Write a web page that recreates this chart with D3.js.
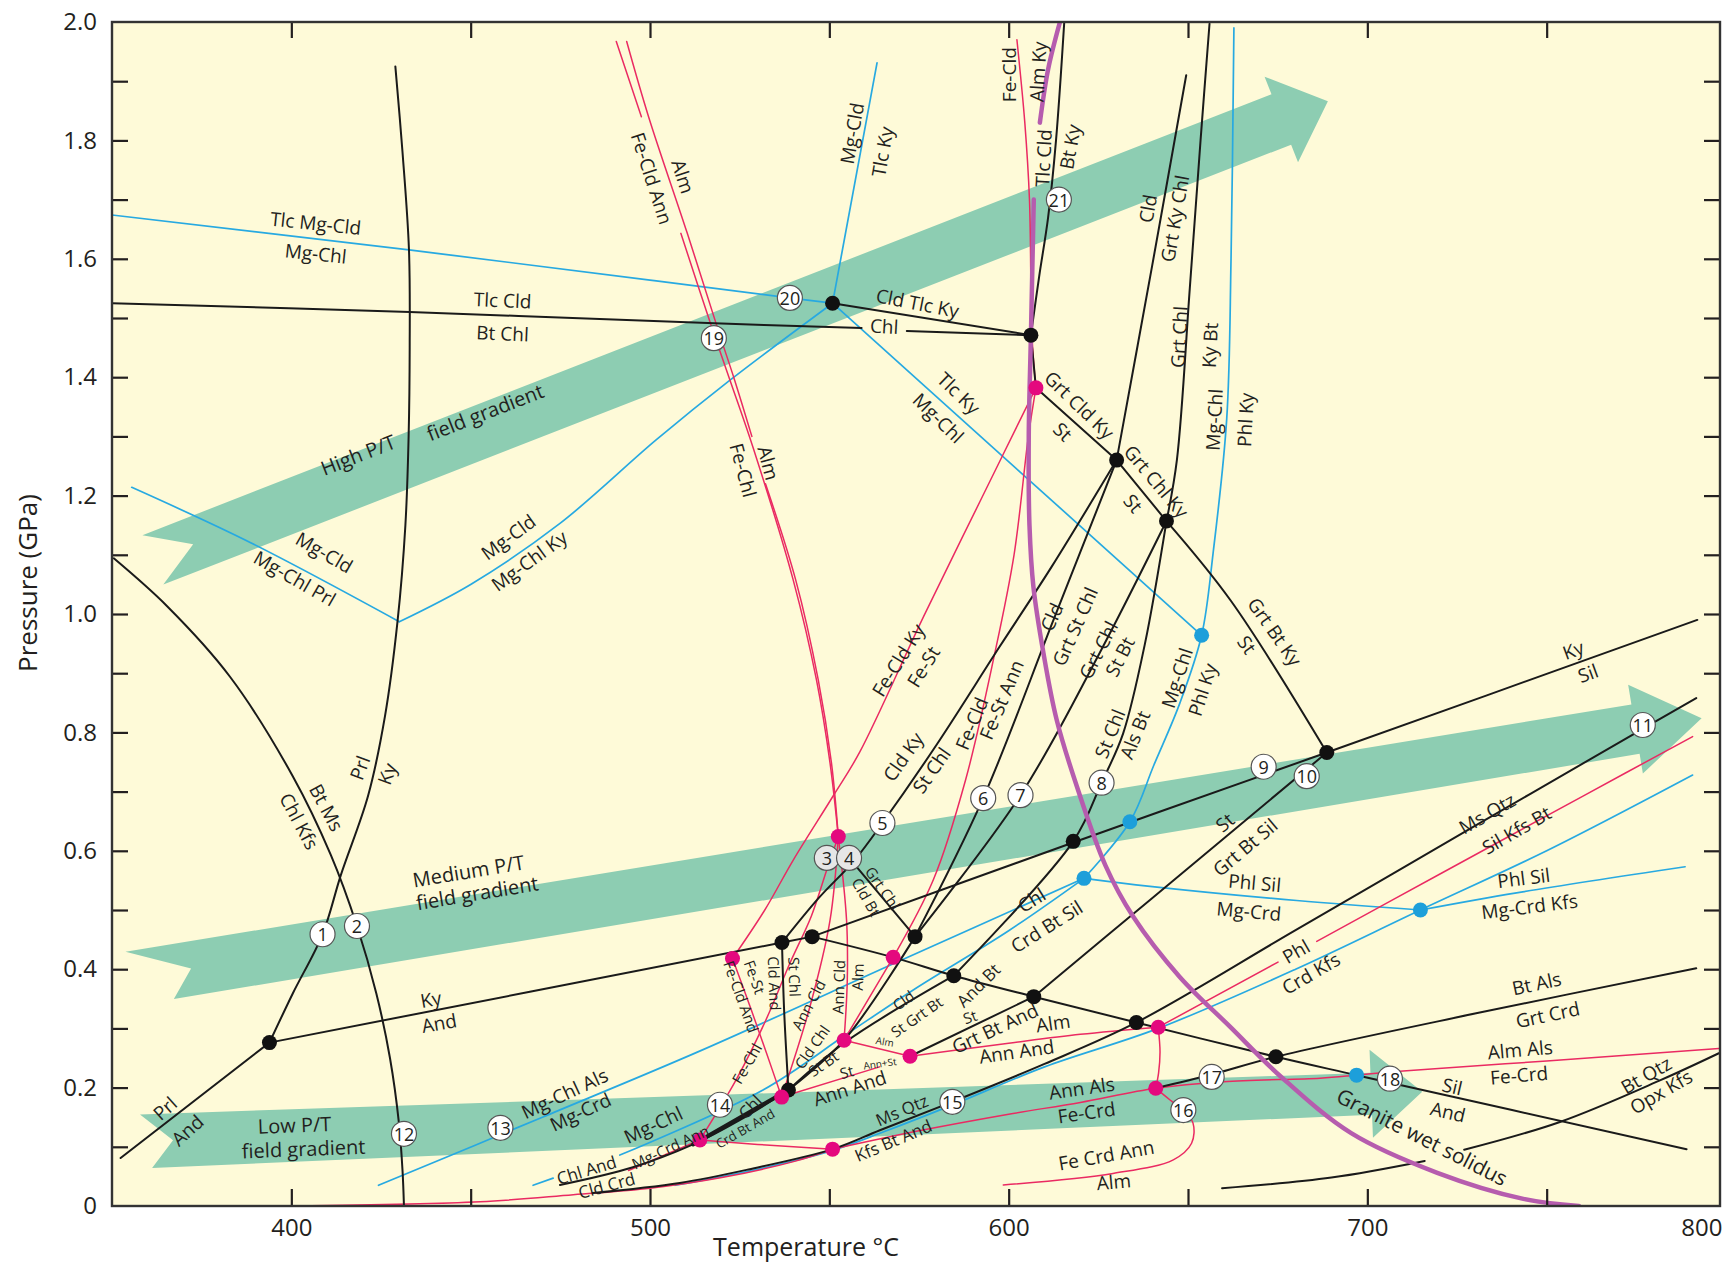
<!DOCTYPE html>
<html><head><meta charset="utf-8">
<script src="https://cdn.jsdelivr.net/npm/d3@7"></script>
<style>
body{margin:0;background:#fff}
svg text{font-family:'Open Sans',sans-serif;fill:#231f20}
</style></head>
<body><svg id="c" width="1725" height="1267"></svg>
<script>
// ---------------- axis ticks ----------------
const tempTicks = [400, 500, 600, 700, 800];
const tempMinorTicks = [400, 450, 500, 550, 600, 650, 700, 750];
const pressTicks = [0, 0.2, 0.4, 0.6, 0.8, 1.0, 1.2, 1.4, 1.6, 1.8, 2.0];
const pressMinorTicks = [0.1,0.2,0.3,0.4,0.5,0.6,0.7,0.8,0.9,1.0,1.1,1.2,1.3,1.4,1.5,1.6,1.7,1.8,1.9];

// ---------------- field gradient arrows (T, P of tail and tip) ----------------
const highGradient = [[361.2, 1.091], [689.0, 1.866]];
const mediumGradient = [[355.0, 0.384], [793.2, 0.824]];
const lowGradient = [[358.1, 0.109], [715.3, 0.193]];

// ---------------- black reactions ----------------
const prlAnd = [[352.4,0.081],[393.9,0.276]];
const prlKy = [[393.9,0.276],[400.4,0.359],[408.7,0.459],[413.8,0.559],[421.4,0.693],[426.1,0.827],[429.6,0.987],[431.8,1.15],[432.7,1.3],[433,1.45],[432.8,1.615],[431,1.78],[429,1.925]];
const btMsChlKfs = [[350.5,1.094],[365.3,1.0135],[382.9,0.894],[400.4,0.726],[411,0.593],[418.3,0.473],[423.7,0.359],[427.5,0.25],[430,0.14],[431,0.06],[431.4,0]];
const andKy = [[393.9,0.276],[536.8,0.445],[545.2,0.455]];
const kySil = [[545.2,0.455],[618,0.614],[688.7,0.766],[792,0.99]];
const andSil = [[545.2,0.455],[567.8,0.42],[584.7,0.389],[607,0.3536],[635.6,0.31],[674.5,0.252],[697,0.221],[789,0.096]];
const tlcCldBtChlA = [[350,1.525],[433,1.51],[518,1.491],[559,1.483]];
const tlcCldBtChlB = [[571.6,1.478],[606.2,1.471]];
const cldTlcKyChl = [[550.9,1.525],[606.2,1.471]];
const tlcCldBtKy = [[606.2,1.471],[608.5,1.57],[611,1.67],[613.2,1.8],[615.5,2.0]];
const cldStem = [[606.2,1.471],[607.6,1.382]];
const grtCldKySt = [[607.6,1.382],[630.1,1.26]];
const grtChlKySt = [[630.1,1.26],[644,1.157]];
const grtBtKySt = [[644,1.157],[662,1.022],[688.7,0.766]];
const cldGrtKyChl = [[630.1,1.26],[640,1.588],[649.5,1.91]];
const grtChlKyBt = [[644,1.157],[646.9,1.26],[650.5,1.55],[653.5,1.8],[656,1.997]];
const cldKyStChl = [[536.8,0.445],[547,0.52],[557,0.584],[564.8,0.647],[580,0.78],[597.5,0.945],[612,1.08],[630.1,1.26]];
const cldGrtStChl = [[573.9,0.455],[592.9,0.689],[612.5,0.99],[630.1,1.26]];
const grtChlStBt = [[573.9,0.455],[603.3,0.694],[625,0.93],[644,1.157]];
const grtChlCldBt = [[555.5,0.588],[573.9,0.455]];
const cldAndStChl = [[536.8,0.445],[537.4,0.33],[538.6,0.196]];
const cldChlStBt = [[538.6,0.196],[554.1,0.28],[573.9,0.455]];
const stBtAnd = [[538.6,0.196],[554.5,0.277],[584.7,0.389]];
const stChlAlsBt = [[584.7,0.389],[618,0.616],[625.9,0.715],[631.9,0.798],[638,0.95],[644,1.157]];
const chlAndCldCrd = [[474.9,0.0355],[495,0.065],[512,0.104],[525,0.145],[538.6,0.196]];
const chlCrdBtAnd = [[512,0.104],[538.6,0.196]];
const msQtzKfsBt = [[484,0.022],[508.3,0.039],[526.9,0.061],[550.9,0.096],[564.1,0.128],[584.3,0.176],[610,0.24],[635.6,0.31],[680,0.466],[730,0.642],[776.8,0.806],[791.7,0.858]];
const btAlsGrtCrd = [[641,0.199],[656.6,0.222],[674.5,0.252],[730,0.325],[791.7,0.4015]];
const btQtzOpxKfsA = [[659.5,0.03],[690,0.048],[716,0.076]];
const btQtzOpxKfsB = [[727,0.095],[753.7,0.142],[781.9,0.213],[798,0.258]];
const stGrtBtAnd = [[572.5,0.253],[607,0.3536]];
const stGrtBtSil = [[607,0.3536],[639.4,0.517],[688.7,0.766]];

// ---------------- red (Fe) reactions ----------------
const almFeCldAnnA = [[490.6,1.967],[497.6,1.84]];
const almFeCldAnnB = [[508.6,1.643],[517.8,1.474],[522.3,1.395],[528.8,1.28],[539.9,1.058],[546.4,0.889],[550.2,0.748],[552.5,0.624]];
const almFeChlA = [[493.5,1.967],[499.6,1.84],[510.4,1.643],[519.3,1.474],[523.6,1.395],[528.4,1.3]];
const almFeChlB = [[532.2,1.22],[540.6,1.058],[546.9,0.889],[550.6,0.748],[552.5,0.624]];
const feCldAlmKy = [[602.3,1.97],[604.5,1.83],[605.8,1.70],[606.5,1.47],[607.6,1.382]];
const feCldKyFeSt = [[523,0.418],[532,0.5],[539.9,0.584],[551.1,0.693],[558.5,0.767],[576.3,0.996],[592,1.19],[607.6,1.382]];
const feCldAndFeSt = [[523,0.418],[527.9,0.337],[532.5,0.258],[536.7,0.184]];
const feCldFeStAnn = [[567.8,0.42],[579,0.551],[588,0.72],[596,0.93],[601.5,1.1],[605.5,1.3],[607.6,1.382]];
const feChlAlm = [[513.9,0.1115],[524,0.213],[532,0.31],[539,0.41],[545,0.49],[549.3,0.568],[552.5,0.624]];
const annCldAlmA = [[552.5,0.624],[550.2,0.483],[544.6,0.337],[536.7,0.184]];
const annCldAlmB = [[552.5,0.624],[554.8,0.483],[555,0.38],[554.1,0.28]];
const feStShort = [[554.1,0.28],[567.8,0.42]];
const almAnnSt = [[554.1,0.28],[572.5,0.253]];
const stAnnAnd = [[536.7,0.184],[564,0.235]];
const almAnnAnd = [[572.5,0.253],[600,0.275],[620,0.29],[641.7,0.302]];
const phlCrdKfsFeA = [[641.7,0.302],[675.1,0.412]];
const phlCrdKfsFeB = [[685.9,0.447],[720,0.56],[760,0.692],[790.7,0.793]];
const feVertical = [[641.7,0.302],[642.2,0.26],[641.8,0.225],[641,0.199]];
const feCrdAnnAlm = [[641,0.199],[645,0.179],[648.7,0.162],[651.4,0.14],[651,0.106],[645.9,0.078],[629.1,0.055],[598.5,0.0355]];
const annAlsFeCrd = [[550.9,0.096],[575,0.127],[600,0.155],[620,0.175],[641,0.199],[660,0.21],[686.8,0.216],[697,0.221],[710,0.228],[750,0.245],[798,0.266]];
const crdBtAndFe = [[513.9,0.1115],[530,0.104],[550.9,0.096]];
const bottomFe = [[401,0.0],[452.6,0.007],[478.6,0.019],[500,0.03],[520,0.048],[540,0.075],[550.9,0.096]];
const mgCrdAnnFe = [[494,0.06],[513.9,0.1115]];

// ---------------- blue (Mg) reactions ----------------
const tlcMgCldMgChl = [[350,1.674],[432.8,1.615],[500,1.564],[539,1.534],[550.9,1.525]];
const mgCldTlcKy = [[550.9,1.525],[563.3,1.931]];
const tlcKyMgChl = [[550.9,1.525],[653.8,0.964]];
const mgChlPhlKy = [[662.8,1.99],[662,1.6],[660.8,1.33],[657,1.103],[653.8,0.964],[647.7,0.849],[640.5,0.745],[633.8,0.649],[621,0.5535]];
const mgCldMgChlPrl = [[355.5,1.214],[388.8,1.12],[430.1,0.987]];
const mgCldMgChlKy = [[430.1,0.987],[450,1.05],[474.9,1.153],[501.7,1.294],[522.3,1.395],[550.9,1.525]];
const phlSilMgCrd = [[621,0.5535],[639.4,0.54],[680.3,0.516],[714.8,0.5]];
const phlSilMgCrdKfs = [[714.8,0.5],[741.6,0.529],[788.6,0.573]];
const mgChlAlsMgCrd = [[424.3,0.035],[470,0.15],[514,0.262],[570,0.415],[621,0.5535]];
const mgChlMgCrdAnnA = [[467.4,0.035],[473,0.047]];
const mgChlMgCrdAnnB = [[491.6,0.086],[531.5,0.196],[554.8,0.29],[573.4,0.365],[600,0.465],[621,0.5535]];
const phlCrdKfsMg = [[507,0.035],[530,0.062],[550.9,0.094],[565,0.125],[584,0.17],[610,0.235],[641.7,0.3],[680,0.4],[714.8,0.5],[750,0.6],[790.7,0.728]];

// ---------------- granite wet solidus ----------------
const solidusTop = [[614.3,2.0],[611,1.92],[608.7,1.83]];
const solidusMain = [[607,1.7],[606.2,1.47],[605.6,1.3],[605.8,1.15],[606.9,1.046],[609.7,0.934],[613.4,0.821],[619,0.709],[627,0.575],[634.7,0.489],[647.7,0.387],[661.7,0.303],[676,0.218],[695.5,0.123],[719.5,0.056],[743.5,0.012],[759,0.0]];

// ---------------- invariant points ----------------
const blackPoints = [[393.9,0.276],[536.8,0.445],[545.2,0.455],[573.9,0.455],[584.7,0.389],[607,0.3536],[618,0.616],[630.1,1.26],[644,1.157],[688.7,0.766],[635.6,0.31],[674.5,0.252],[538.6,0.196],[550.9,1.525],[606.2,1.471]];
const magentaPoints = [[607.6,1.382],[552.5,0.624],[523,0.418],[567.8,0.42],[554.1,0.28],[572.5,0.253],[536.7,0.184],[513.9,0.1115],[550.9,0.096],[641.7,0.302],[641,0.199]];
const bluePoints = [[653.8,0.964],[633.8,0.649],[621,0.5535],[714.8,0.5],[697,0.221]];
const numberedPoints = [[1,408.7,0.459],[2,418.3,0.473],[3,549.3,0.588],[4,555.5,0.588],[5,564.8,0.647],[6,592.9,0.689],[7,603.3,0.694],[8,625.9,0.715],[9,671.1,0.742],[10,683.1,0.726],[11,776.8,0.8125],[12,431.4,0.122],[13,458.3,0.132],[14,519.5,0.171],[15,584.3,0.176],[16,648.7,0.162],[17,656.6,0.218],[18,706.3,0.215],[19,517.8,1.466],[20,539,1.534],[21,614,1.70]];

// ---------------- labels [text, T, P, angle] ----------------
const arrowLabels = [["High P/T",418.6,1.269,-21.3],["field gradient",454.0,1.341,-21.3],["Medium P/T",449.4,0.566,-9.4],["field gradient",451.8,0.529,-9.4],["Low P/T",400.9,0.137,-2.2],["field gradient",403.4,0.097,-2.2]];
const solidusLabel = [["Granite wet solidus",715.3,0.117,27]];
const labelsL = [
["Tlc Mg-Cld",406.8,1.660,6],["Mg-Chl",406.8,1.609,6],["Tlc Cld",458.9,1.530,2.5],["Bt Chl",458.9,1.474,2.5],
["Alm",509.2,1.739,72],["Fe-Cld Ann",500.5,1.736,72],["Mg-Cld",556.3,1.812,-80],["Tlc Ky",564.8,1.781,-80],
["Fe-Cld",600.0,1.911,-90],["Alm Ky",608.2,1.916,-87],["Tlc Cld",609.7,1.770,-87],["Bt Ky",617.1,1.789,-80],
["Cld Tlc Ky",574.6,1.525,11],["Chl",565.3,1.486,3],["Tlc Ky",586.1,1.373,44],["Mg-Chl",580.4,1.331,44],
["Grt Cld Ky",619.7,1.353,44],["St",615.1,1.308,44],["Cld",638.8,1.685,-80],["Grt Ky Chl",646.3,1.668,-80],
["Grt Chl",647.5,1.468,-87],["Ky Bt",656.1,1.454,-87],["Mg-Chl",657.3,1.328,-87],["Phl Ky",666.0,1.328,-87],
["Mg-Cld",409.2,1.104,30],["Mg-Chl Prl",401.0,1.060,30],["Mg-Cld",460.5,1.130,-36],["Mg-Chl Ky",466.3,1.090,-36],
["Prl",419.1,0.740,-70],["Ky",426.7,0.730,-70],["Bt Ms",409.8,0.673,62],["Chl Kfs",402.2,0.650,62],
["Ky",438.9,0.349,-10],["And",441.2,0.309,-10],["Prl",364.8,0.165,-42],["And",371.0,0.128,-42],
["Mg-Chl Als",476.2,0.190,-25],["Mg-Crd",480.6,0.159,-25],["Mg-Chl",500.9,0.137,-25],["Ann And",555.7,0.199,-18],
["Grt Bt And",596.2,0.300,-25],["Chl",606.4,0.517,-32],["Crd Bt Sil",610.6,0.472,-32],
["Phl Sil",668.6,0.546,5],["Mg-Crd",667.0,0.498,5],["Alm",612.4,0.309,-8],["Ann And",602.2,0.261,-8],
["Ann Als",620.4,0.199,-8],["Fe-Crd",621.7,0.158,-8],["Fe Crd Ann",627.2,0.086,-10],["Alm",629.3,0.041,-5],
["Phl",680.1,0.430,-30],["Crd Kfs",684.3,0.393,-30],["Mg-Chl",646.9,0.892,-72],["Phl Ky",654.0,0.872,-72],
["Grt Bt Ky",674.2,0.970,55],["St",666.4,0.948,55],["Ky",757.4,0.939,-20],["Sil",761.5,0.900,-20],
["St",660.3,0.648,-40],["Grt Bt Sil",665.9,0.606,-40],["Ms Qtz",733.4,0.663,-30],["Sil Kfs Bt",741.6,0.635,-30],
["Phl Sil",743.6,0.554,-7],["Mg-Crd Kfs",745.2,0.506,-7],["Bt Als",747.2,0.376,-12],["Grt Crd",750.3,0.323,-12],
["Alm Als",742.6,0.264,-5],["Fe-Crd",742.3,0.221,-5],["Sil",723.7,0.202,13],["And",722.5,0.159,13],
["Bt Qtz",777.7,0.221,-30],["Opx Kfs",781.9,0.193,-30],["Fe-Cld Ky",569.2,0.922,-58],["Fe-St",576.2,0.911,-58],
["Cld Ky",570.6,0.759,-55],["St Chl",578.5,0.736,-55],["Fe-Cld",589.7,0.815,-67],["Fe-St Ann",598.0,0.855,-67],
["Cld",612.0,0.995,-66],["Grt St Chl",618.5,0.979,-66],["Grt Chl",625.0,0.939,-63],["St Bt",631.0,0.928,-63],
["St Chl",628.2,0.798,-68],["Als Bt",635.2,0.796,-68],["Grt Chl Ky",641.2,1.224,50],["St",634.7,1.187,50],
["Fe-Chl",526.0,1.243,75],["Alm",533.0,1.255,75]];
const labelsM = [["Chl And",482.3,0.061,-17],["Cld Crd",487.9,0.035,-15],["Ms Qtz",570.2,0.162,-23],["Kfs Bt And",567.8,0.111,-23],["Chl",527.9,0.168,-45],["And Bt",591.5,0.373,-45]];
const labelsS = [["Mg-Crd Ann",505.6,0.100,-25],["Fe-Chl",526.9,0.241,-60],["Fe-Cld And",525.5,0.354,70],["Fe-St",529.3,0.387,70],["Cld And",534.8,0.376,88],["St Chl",540.4,0.387,88],["Ann Cld",544.1,0.340,-62],["Ann Cld",552.5,0.370,-88],["Alm",557.8,0.387,-88],["Cld Chl",545.1,0.269,-55],["St Bt",548.3,0.241,-35],["St",554.8,0.227,-15],["Grt Chl",565.0,0.537,55],["Cld Bt",560.4,0.522,60],["Cld",570.6,0.348,-35],["St Grt Bt",574.3,0.320,-35],["St",589.2,0.320,-20]];
const labelsXS = [["Crd Bt And",526.5,0.131,-30]];
const labelsT = [["Alm",565.5,0.278,10],["Ann+St",564.1,0.241,-8]];

// ---------------- drawing ----------------
const x = d3.scaleLinear().domain([350, 800]).range([112, 1726]);
const y = d3.scaleLinear().domain([0, 2]).range([1206, 22]);
const plot = {left: 112, top: 22, right: 1720, bottom: 1206};

const svg = d3.select('#c');
svg.append('defs').append('clipPath').attr('id', 'clip').append('rect')
  .attr('x', plot.left).attr('y', plot.top).attr('width', plot.right - plot.left).attr('height', plot.bottom - plot.top);
svg.append('rect').attr('x', plot.left).attr('y', plot.top).attr('width', plot.right - plot.left).attr('height', plot.bottom - plot.top).attr('fill', '#fefad8');

const g = svg.append('g').attr('clip-path', 'url(#clip)');

// arrows
const arrowShapes = [
  [highGradient, {w0: 26.8, w1: 27, hw: 46, hl: 50, nd: 44, skew: 1.5}],
  [mediumGradient, {w0: 27.3, w1: 25, hw: 45, hl: 67, nd: 62, skew: 40}],
  [lowGradient, {w0: 27, w1: 21, hw: 44, hl: 51, nd: 32, skew: 10}]
];
function arrowPoints(pts, s) {
  const S = [x(pts[0][0]), y(pts[0][1])], E = [x(pts[1][0]), y(pts[1][1])];
  const L = Math.hypot(E[0] - S[0], E[1] - S[1]);
  const u = [(E[0] - S[0]) / L, (E[1] - S[1]) / L], n = [-u[1], u[0]];
  const m = (p, a, v, b = 0, w = [0, 0]) => [p[0] + a * v[0] + b * w[0], p[1] + a * v[1] + b * w[1]];
  const B = m(E, -s.hl, u);
  return [m(S, -s.w0, n), m(B, -s.w1, n), m(B, -s.hw, n), E, m(B, s.hw, n), m(B, s.w1, n), m(S, s.w0, n, s.skew, u), m(S, s.nd, u)];
}
arrowShapes.forEach(([pts, s]) => {
  g.append('polygon').attr('points', arrowPoints(pts, s).map(p => p.join(',')).join(' ')).attr('fill', '#8dcdb2');
});

const line = d3.line().x(d => x(d[0])).y(d => y(d[1])).curve(d3.curveCatmullRom.alpha(0.5));
function drawLines(list, color, width) {
  list.forEach(pts => g.append('path').attr('d', line(pts)).attr('fill', 'none')
    .attr('stroke', color).attr('stroke-width', width).attr('stroke-linecap', 'round').attr('stroke-linejoin', 'round'));
}
const blueLines = [tlcMgCldMgChl, mgCldTlcKy, tlcKyMgChl, mgChlPhlKy, mgCldMgChlPrl, mgCldMgChlKy, phlSilMgCrd, phlSilMgCrdKfs, mgChlAlsMgCrd, mgChlMgCrdAnnA, mgChlMgCrdAnnB, phlCrdKfsMg];
const redLines = [almFeCldAnnA, almFeCldAnnB, almFeChlA, almFeChlB, feCldAlmKy, feCldKyFeSt, feCldAndFeSt, feCldFeStAnn, feChlAlm, annCldAlmA, annCldAlmB, feStShort, almAnnSt, stAnnAnd, almAnnAnd, phlCrdKfsFeA, phlCrdKfsFeB, feVertical, feCrdAnnAlm, annAlsFeCrd, crdBtAndFe, bottomFe, mgCrdAnnFe];
const blackLines = [prlAnd, prlKy, btMsChlKfs, andKy, kySil, andSil, tlcCldBtChlA, tlcCldBtChlB, cldTlcKyChl, tlcCldBtKy, cldStem, grtCldKySt, grtChlKySt, grtBtKySt, cldGrtKyChl, grtChlKyBt, cldKyStChl, cldGrtStChl, grtChlStBt, grtChlCldBt, cldAndStChl, cldChlStBt, stBtAnd, stChlAlsBt, chlAndCldCrd, msQtzKfsBt, btAlsGrtCrd, btQtzOpxKfsA, btQtzOpxKfsB, stGrtBtAnd, stGrtBtSil];

drawLines(blueLines, '#27a9e1', 1.7);
drawLines(redLines, '#ea2a62', 1.5);
drawLines(blackLines, '#1a1a1a', 2);
drawLines([chlCrdBtAnd], '#1a1a1a', 4);
drawLines([solidusTop, solidusMain], '#b65cae', 4.5);

function drawDots(list, color) {
  g.selectAll(null).data(list).enter().append('circle')
    .attr('cx', d => x(d[0])).attr('cy', d => y(d[1])).attr('r', 7.5).attr('fill', color);
}
drawDots(blackPoints, '#111');
drawDots(magentaPoints, '#e4097e');
drawDots(bluePoints, '#1d9fda');

const np = g.selectAll(null).data(numberedPoints).enter().append('g')
  .attr('transform', d => `translate(${x(d[1])},${y(d[2])})`);
np.append('circle').attr('r', 12.5).attr('fill', d => (d[0] === 3 || d[0] === 4) ? '#e6e6e6' : '#fff')
  .attr('stroke', '#555').attr('stroke-width', 1.2);
np.append('text').attr('text-anchor', 'middle').attr('dominant-baseline', 'central')
  .attr('font-size', 18).text(d => d[0]);

const lg = svg.append('g').attr('clip-path', 'url(#clip)');
function drawLabels(list, size) {
  list.forEach(([t, T, P, a]) => lg.append('text')
    .attr('transform', `translate(${x(T)},${y(P)}) rotate(${a})`)
    .attr('text-anchor', 'middle').attr('dominant-baseline', 'central')
    .attr('font-size', size).text(t));
}
drawLabels(arrowLabels, 20);
drawLabels(solidusLabel, 21);
drawLabels(labelsL, 19);
drawLabels(labelsM, 17);
drawLabels(labelsS, 15);
drawLabels(labelsXS, 13);
drawLabels(labelsT, 10);

// axes (inward ticks)
const tickStyle = sel => { sel.select('.domain').remove(); sel.selectAll('line').attr('stroke', '#231f20').attr('stroke-width', 2.2); };
svg.append('g').attr('transform', `translate(${plot.left},0)`)
  .call(d3.axisLeft(y).tickValues(pressMinorTicks).tickSize(-16).tickFormat('')).call(tickStyle);
svg.append('g').attr('transform', `translate(${plot.right},0)`)
  .call(d3.axisRight(y).tickValues(pressMinorTicks).tickSize(-16).tickFormat('')).call(tickStyle);
svg.append('g').attr('transform', `translate(0,${plot.bottom})`)
  .call(d3.axisBottom(x).tickValues(tempMinorTicks).tickSize(-17).tickFormat('')).call(tickStyle);
svg.append('g').attr('transform', `translate(0,${plot.top})`)
  .call(d3.axisTop(x).tickValues(tempMinorTicks).tickSize(-16).tickFormat('')).call(tickStyle);

// tick labels
const yl = svg.append('g').attr('transform', `translate(${plot.left},0)`)
  .call(d3.axisLeft(y).tickValues(pressTicks).tickSize(0).tickPadding(15).tickFormat(d => d === 0 ? '0' : d3.format('.1f')(d)));
yl.select('.domain').remove();
yl.selectAll('text').attr('font-size', 24).attr('font-family', "'Open Sans',sans-serif").attr('fill', '#231f20');
const xl = svg.append('g').attr('transform', `translate(0,${plot.bottom})`)
  .call(d3.axisBottom(x).tickValues(tempTicks).tickSize(0).tickPadding(13).tickFormat(d3.format('d')));
xl.select('.domain').remove();
xl.selectAll('text').attr('font-size', 24).attr('font-family', "'Open Sans',sans-serif").attr('fill', '#231f20');
xl.selectAll('.tick').filter(d => d === 800).select('text').attr('text-anchor', 'end').attr('x', plot.right + 2 - x(800));

// frame
svg.append('rect').attr('x', plot.left).attr('y', plot.top).attr('width', plot.right - plot.left).attr('height', plot.bottom - plot.top)
  .attr('fill', 'none').attr('stroke', '#333').attr('stroke-width', 2.4);

// axis titles
svg.append('text').attr('transform', 'translate(27,583) rotate(-90)').attr('text-anchor', 'middle')
  .attr('dominant-baseline', 'central').attr('font-size', 26).text('Pressure (GPa)');
svg.append('text').attr('x', 806).attr('y', 1256).attr('text-anchor', 'middle')
  .attr('font-size', 25).text('Temperature °C');
</script>
</body></html>
